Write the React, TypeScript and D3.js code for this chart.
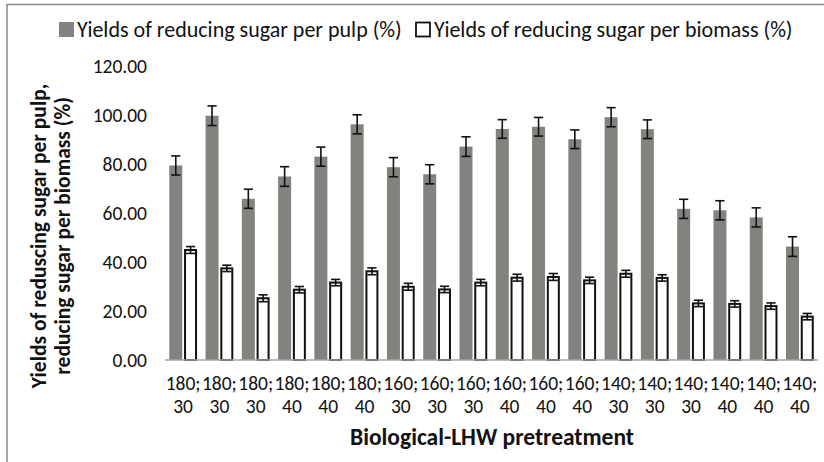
import React from 'react';
import * as d3 from 'd3';

// Biological-LHW pretreatment: temperature ; time
const temps = ['180', '180', '180', '180', '180', '180', '160', '160', '160', '160', '160', '160', '140', '140', '140', '140', '140', '140'];
const times = ['30', '30', '30', '40', '40', '40', '30', '30', '30', '40', '40', '40', '30', '30', '30', '40', '40', '40'];

// Yields of reducing sugar per pulp (%)
const pulp = [79.4, 99.7, 65.8, 74.9, 83.0, 96.2, 78.7, 75.8, 87.1, 94.3, 95.2, 90.1, 99.1, 94.2, 61.7, 61.1, 58.2, 46.3];
const pulpErr = [3.9, 4.0, 3.9, 4.0, 3.9, 3.9, 3.9, 3.9, 4.0, 3.8, 3.8, 3.8, 3.9, 3.8, 3.9, 3.9, 3.9, 4.0];

// Yields of reducing sugar per biomass (%)
const biomass = [44.9, 37.4, 25.2, 28.7, 31.6, 36.2, 29.9, 28.8, 31.6, 33.6, 33.9, 32.5, 35.2, 33.5, 23.1, 22.9, 22.0, 17.7];
const biomassErr = [1.4, 1.3, 1.4, 1.3, 1.3, 1.4, 1.4, 1.3, 1.3, 1.4, 1.4, 1.3, 1.4, 1.3, 1.3, 1.3, 1.3, 1.3];

const yTicks = [0, 20, 40, 60, 80, 100, 120];
const seriesNames = ['Yields of reducing sugar per pulp (%)', 'Yields of reducing sugar per biomass (%)'];

const FONT = "Carlito, Lato, 'Open Sans', sans-serif";
const GRAY = '#83827e';

export default function App() {
  const width = 824;
  const height = 462;

  const idx = temps.map((_, i) => String(i));
  const x0 = d3.scaleBand().domain(idx).range([165, 818]).padding(0);
  const bw = x0.bandwidth();
  const groupW = bw * 0.765;
  const groupOff = bw * 0.118;
  const x1 = d3.scaleBand().domain(['pulp', 'biomass']).range([0, groupW]).paddingInner(0.12);
  const barW = x1.bandwidth();

  const y = d3.scaleLinear().domain([0, 120]).range([360, 66]);
  const fmt = d3.format('.2f');

  const errBar = (cx: number, v: number, e: number, key: string) => {
    const cap = 4.6;
    return (
      <g key={key} stroke="#111" strokeWidth={1.6}>
        <line x1={cx} x2={cx} y1={y(v + e)} y2={y(v - e)} />
        <line x1={cx - cap} x2={cx + cap} y1={y(v + e)} y2={y(v + e)} />
        <line x1={cx - cap} x2={cx + cap} y1={y(v - e)} y2={y(v - e)} />
      </g>
    );
  };

  return (
    <svg
      width={width}
      height={height}
      style={{ position: 'absolute', left: 0, top: 0, background: '#fff' }}
      fontFamily={FONT}
    >
      <rect x={0} y={0} width={width} height={height} fill="#fff" />
      {/* chart frame */}
      <rect x={7} y={4.5} width={840} height={480} fill="none" stroke="#8a8a8a" strokeWidth={1.5} />

      {/* legend */}
      <rect x={59} y={22} width={15} height={15} fill={GRAY} />
      <text x={77} y={37} fontSize={22} fill="#111">{seriesNames[0]}</text>
      <rect x={416} y={22.5} width={14} height={14} fill="#fff" stroke="#111" strokeWidth={1.8} />
      <text x={434} y={37} fontSize={22} fill="#111">{seriesNames[1]}</text>

      {/* y tick labels */}
      {yTicks.map(t => (
        <text key={t} x={147} y={y(t)} dy="0.35em" textAnchor="end" fontSize={19.5} fill="#111">
          {fmt(t)}
        </text>
      ))}

      {/* bars */}
      {idx.map((k, i) => {
        const gx = (x0(k) as number) + groupOff;
        const px = gx + (x1('pulp') as number);
        const bx = gx + (x1('biomass') as number);
        return (
          <g key={k}>
            <rect x={px} y={y(pulp[i])} width={barW} height={y(0) - y(pulp[i])} fill={GRAY} />
            <rect
              x={bx + 1}
              y={y(biomass[i])}
              width={barW - 2}
              height={y(0) - y(biomass[i])}
              fill="#fff"
              stroke="#111"
              strokeWidth={2}
            />
          </g>
        );
      })}

      {/* x axis line */}
      <line x1={165} x2={818} y1={y(0)} y2={y(0)} stroke="#a3a3a3" strokeWidth={1.5} />

      {/* error bars */}
      {idx.map((k, i) => {
        const gx = (x0(k) as number) + groupOff;
        const pc = gx + (x1('pulp') as number) + barW / 2;
        const bc = gx + (x1('biomass') as number) + barW / 2;
        return (
          <g key={'e' + k}>
            {errBar(pc, pulp[i], pulpErr[i], 'p' + k)}
            {errBar(bc, biomass[i], biomassErr[i], 'b' + k)}
          </g>
        );
      })}

      {/* category labels */}
      {idx.map((k, i) => {
        const cx = (x0(k) as number) + bw / 2;
        return (
          <text key={'c' + k} x={cx} textAnchor="middle" fontSize={19.5} fill="#111">
            <tspan x={cx} y={390}>{temps[i] + ';'}</tspan>
            <tspan x={cx} y={413}>{times[i]}</tspan>
          </text>
        );
      })}

      {/* axis titles */}
      <text x={492} y={445} textAnchor="middle" fontSize={23.5} fontWeight="bold" fill="#111">
        Biological-LHW pretreatment
      </text>
      <text transform="translate(46,236) rotate(-90)" textAnchor="middle" fontSize={21.5} fontWeight="bold" fill="#111">
        Yields of reduscing sugar per pulp,
      </text>
      <text transform="translate(70,236) rotate(-90)" textAnchor="middle" fontSize={21.5} fontWeight="bold" fill="#111">
        reducing sugar per biomass (%)
      </text>
    </svg>
  );
}
